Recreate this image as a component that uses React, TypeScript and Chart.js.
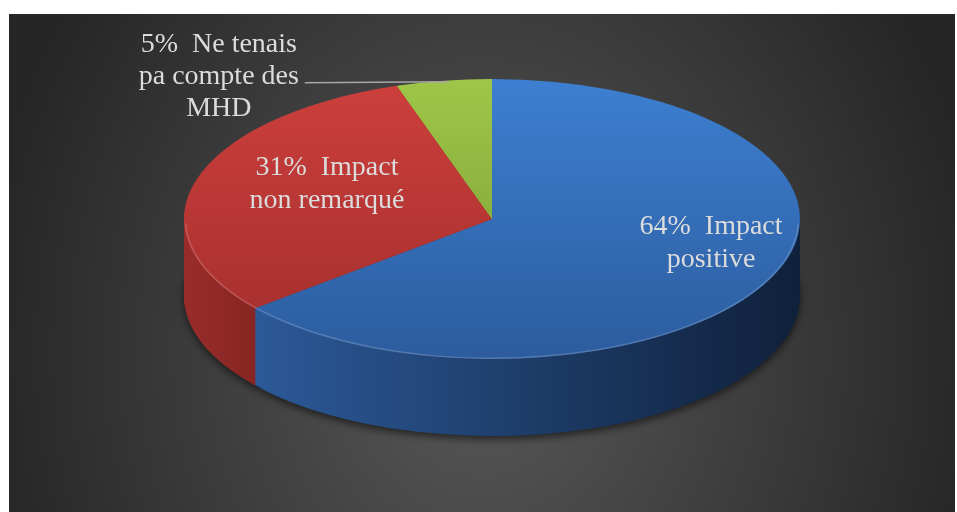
import React, { useEffect, useRef } from 'react';
import { Chart, registerables } from 'chart.js';

Chart.register(...registerables);

// ---- data ----
const categories = ['Impact positive', 'Impact non remarqué', 'Ne tenais pa compte des MHD'];
const values = [64, 31, 5];
const labelTexts = [
  ['Impact', 'positive'],
  ['Impact', 'non remarqué'],
  ['Ne tenais', 'pa compte des', 'MHD'],
];

// ---- styles ----
const topColors = [
  ['#3d7fd1', '#2c5c9e'],
  ['#cd3f3c', '#a12e2c'],
  ['#9fc648', '#789833'],
];
const sideColors = [
  ['#2d5c9c', '#10213c'],
  ['#992c2a', '#7a211f'],
  ['#7a9a33', '#5f7a28'],
];

const CW = 957;
const CH = 640;
const PIE_Y = 219; // screen y of the pie centre
const RX = 308;
const RY = 140;
const K = RY / RX;
const DEPTH = 77;
const FONT = '28px "Liberation Serif", "DejaVu Serif", serif';
const LINE_H = 33;
const TEXT_COLOR = '#dcdcdc';

export default function App() {
  const ref = useRef<HTMLCanvasElement | null>(null);

  useEffect(() => {
    const canvas = ref.current;
    if (!canvas) return;
    let alive = true;

    const sideCache: any = {};
    const sideFill = (ctx: CanvasRenderingContext2D, i: number) => {
      if (sideCache[i]) return sideCache[i];
      const x0 = i === 1 ? 184 : 230;
      const x1 = i === 1 ? 300 : 790;
      const g = ctx.createLinearGradient(x0, 0, x1, 0);
      g.addColorStop(0, sideColors[i][0]);
      g.addColorStop(1, sideColors[i][1]);
      sideCache[i] = g;
      return g;
    };

    const pie3d = {
      id: 'pie3d',
      beforeDraw(chart: any) {
        const ctx: CanvasRenderingContext2D = chart.ctx;
        ctx.save();
        ctx.fillStyle = '#ffffff';
        ctx.fillRect(0, 0, CW, CH);
        ctx.beginPath();
        ctx.rect(9, 14, 946, CH - 14);
        ctx.clip();
        ctx.translate(483, 350);
        ctx.scale(1, 1.2);
        const g = ctx.createRadialGradient(0, 0, 0, 0, 0, 500);
        g.addColorStop(0, '#595959');
        g.addColorStop(1, '#262626');
        ctx.fillStyle = g;
        ctx.fillRect(-700, -700, 1400, 1400);
        ctx.restore();
      },
      beforeDatasetsDraw(chart: any) {
        const ctx: CanvasRenderingContext2D = chart.ctx;
        const arcs = chart.getDatasetMeta(0).data;
        if (!arcs.length) return;
        const cy = arcs[0].y;
        for (let d = DEPTH; d >= 1; d--) {
          ctx.save();
          ctx.translate(0, PIE_Y + d);
          ctx.scale(1, K);
          ctx.translate(0, -cy);
          if (d === DEPTH) {
            ctx.shadowColor = 'rgba(0,0,0,0.6)';
            ctx.shadowBlur = 8;
            ctx.shadowOffsetY = 3;
          }
          arcs.forEach((a: any, i: number) => {
            const o = a.options;
            a.options = { ...o, backgroundColor: sideFill(ctx, i), borderWidth: 0 };
            a.draw(ctx);
            a.options = o;
          });
          ctx.restore();
        }
        ctx.save();
        ctx.translate(0, PIE_Y);
        ctx.scale(1, K);
        ctx.translate(0, -cy);
      },
      afterDatasetsDraw(chart: any) {
        const ctx: CanvasRenderingContext2D = chart.ctx;
        ctx.restore();
        const arcs = chart.getDatasetMeta(0).data;
        if (!arcs.length) return;
        // subtle rim highlight on the front edge of the top face
        ctx.save();
        ctx.translate(0, PIE_Y);
        ctx.scale(1, K);
        ctx.beginPath();
        ctx.arc(arcs[0].x, 0, arcs[0].outerRadius - 1.5, 0.03, Math.PI - 0.03);
        ctx.restore();
        ctx.save();
        ctx.strokeStyle = 'rgba(255,255,255,0.18)';
        ctx.lineWidth = 1.5;
        ctx.stroke();
        ctx.restore();

        ctx.save();
        ctx.font = FONT;
        ctx.fillStyle = TEXT_COLOR;
        ctx.textAlign = 'center';
        ctx.textBaseline = 'middle';
        const inside = [
          { f: 0.786, dy: -23 },
          { f: 0.558, dy: -13 },
        ];
        arcs.forEach((a: any, i: number) => {
          const mid = (a.startAngle + a.endAngle) / 2;
          const r = a.outerRadius;
          const lines = [`${values[i]}%  ${labelTexts[i][0]}`, ...labelTexts[i].slice(1)];
          if (i < 2) {
            const p = inside[i];
            const x = a.x + Math.cos(mid) * r * p.f;
            const y = PIE_Y + Math.sin(mid) * r * p.f * K + p.dy;
            lines.forEach((t, j) => {
              ctx.fillText(t, x, y + (j - (lines.length - 1) / 2) * LINE_H);
            });
          } else {
            const ex = a.x + Math.cos(mid) * r + 5;
            const ey = PIE_Y + Math.sin(mid) * r * K + 2;
            const sx = ex - 144;
            ctx.strokeStyle = '#a8a8a8';
            ctx.lineWidth = 1.6;
            ctx.beginPath();
            ctx.moveTo(sx, ey);
            ctx.lineTo(ex, ey - 1);
            ctx.stroke();
            const tx = sx - 86;
            const ty = ey - 6;
            lines.forEach((t, j) => {
              ctx.fillText(t, tx, ty + (j - 1) * (LINE_H - 1));
            });
          }
        });
        ctx.restore();
      },
    };

    const topFill = (context: any) => {
      const chart = context.chart;
      const area = chart.chartArea;
      if (!area) return topColors[context.dataIndex][0];
      const g = chart.ctx.createLinearGradient(0, area.top, 0, area.bottom);
      g.addColorStop(0, topColors[context.dataIndex][0]);
      g.addColorStop(1, topColors[context.dataIndex][1]);
      return g;
    };

    const chart = new Chart(canvas, {
      type: 'pie',
      data: {
        labels: categories,
        datasets: [
          {
            data: values,
            backgroundColor: topFill,
            borderWidth: 0,
            clip: false,
          } as any,
        ],
      },
      options: {
        animation: false,
        responsive: true,
        maintainAspectRatio: false,
        events: [],
        rotation: 0,
        layout: { padding: { left: 184, right: CW - 184 - 2 * RX, top: 12, bottom: CH - 12 - 2 * RX } },
        plugins: {
          legend: { display: false },
          tooltip: { enabled: false },
          title: { display: false },
        },
      },
      plugins: [pie3d as any],
    });

    if ((document as any).fonts && (document as any).fonts.load) {
      (document as any).fonts.load(FONT, '5% Ne tenais').then(() => {
        if (alive) chart.draw();
      }).catch(() => {});
    }

    return () => {
      alive = false;
      chart.destroy();
    };
  }, []);

  return (
    <div style={{ position: 'fixed', left: 0, top: 0, width: CW, height: 512, overflow: 'hidden', background: '#fff' }}>
      <div style={{ position: 'relative', width: CW, height: CH }}>
        <canvas ref={ref} />
      </div>
    </div>
  );
}
